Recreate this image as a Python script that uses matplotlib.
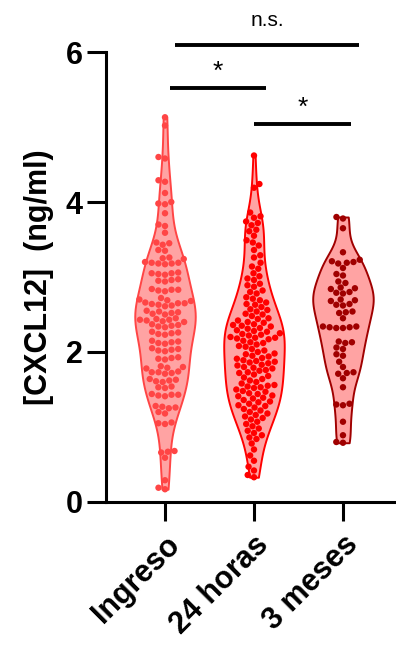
import matplotlib
matplotlib.use("Agg")
import matplotlib.pyplot as plt
import seaborn as sns
import pandas as pd

# datos (ng/ml)
grupos = ["Ingreso", "24 horas", "3 meses"]

ingreso = [
    5.13, 5.02, 4.60, 4.58, 4.29, 4.27, 4.12, 4.00, 3.98, 3.97, 3.85,
    3.70, 3.68, 3.59, 3.46, 3.45, 3.43, 3.36, 3.35, 3.26, 3.25, 3.24,
    3.20, 3.19, 3.19, 3.18, 3.18, 3.17, 3.06, 3.05, 3.05, 3.04, 3.03,
    2.97, 2.96, 2.95, 2.94, 2.84, 2.83, 2.83, 2.82, 2.81, 2.72, 2.70,
    2.69, 2.68, 2.66, 2.65, 2.65, 2.64, 2.63, 2.62, 2.61, 2.55, 2.54,
    2.53, 2.52, 2.51, 2.50, 2.45, 2.44, 2.43, 2.43, 2.42, 2.41, 2.40,
    2.37, 2.36, 2.35, 2.34, 2.33, 2.27, 2.26, 2.25, 2.24, 2.23, 2.15,
    2.14, 2.13, 2.12, 2.11, 2.05, 2.04, 2.03, 2.02, 2.01, 1.93, 1.92,
    1.91, 1.90, 1.81, 1.80, 1.79, 1.78, 1.74, 1.73, 1.73, 1.72, 1.71,
    1.64, 1.63, 1.62, 1.61, 1.60, 1.54, 1.53, 1.52, 1.44, 1.43, 1.43,
    1.42, 1.41, 1.28, 1.27, 1.26, 1.25, 1.20, 1.18, 1.06, 1.05, 1.04,
    0.68, 0.67, 0.66, 0.59, 0.29, 0.19, 0.17,
]

horas24 = [
    4.62, 4.24, 4.19,
    3.86, 3.81, 3.79, 3.74, 3.72, 3.69, 3.63, 3.61, 3.55, 3.49, 3.46, 3.42,
    3.36, 3.29, 3.26, 3.19, 3.14, 3.11, 3.05, 3.01,
    2.98, 2.96, 2.91, 2.89, 2.87, 2.82, 2.80, 2.78, 2.73, 2.71, 2.69, 2.66,
    2.64, 2.63, 2.60, 2.57, 2.56, 2.54, 2.51, 2.50, 2.48, 2.45, 2.44, 2.42,
    2.40, 2.39, 2.37, 2.36, 2.35, 2.34, 2.32, 2.31,
    2.29, 2.28, 2.27, 2.25, 2.24, 2.23, 2.22, 2.20, 2.19, 2.19, 2.18, 2.17,
    2.15, 2.13, 2.12, 2.10, 2.08, 2.07, 2.04, 2.02, 2.00, 1.98, 1.97, 1.95,
    1.94, 1.92, 1.91,
    1.89, 1.88, 1.87, 1.86, 1.85, 1.83, 1.82, 1.80, 1.79, 1.78, 1.76, 1.75,
    1.73, 1.72, 1.70, 1.68, 1.66, 1.64, 1.62, 1.60, 1.58, 1.56, 1.55, 1.54,
    1.53, 1.52,
    1.50, 1.48, 1.47, 1.45, 1.44, 1.42, 1.41, 1.39, 1.38, 1.36, 1.34, 1.33,
    1.31, 1.29, 1.28,
    1.26, 1.24, 1.22, 1.20, 1.18, 1.16, 1.14, 1.12, 1.10, 1.07, 1.04, 1.01,
    0.98, 0.95, 0.92, 0.89, 0.86, 0.84,
    0.78, 0.70, 0.62, 0.55, 0.47, 0.42, 0.36, 0.33,
]

meses3 = [
    3.80, 3.78, 3.65, 3.33, 3.23, 3.21, 3.20, 3.19, 3.18, 3.12, 3.04, 3.02,
    2.94, 2.92, 2.86, 2.85, 2.84, 2.80, 2.79, 2.78, 2.70, 2.69, 2.68, 2.64,
    2.63, 2.62, 2.54, 2.53, 2.52, 2.45, 2.34, 2.34, 2.33, 2.33, 2.32, 2.32,
    2.14, 2.13, 2.12, 2.06, 2.04, 1.97, 1.95, 1.87, 1.80, 1.73, 1.72, 1.71,
    1.65, 1.53, 1.31, 1.30, 1.29, 1.07, 0.89, 0.80, 0.79,
]

colores_punto = ["#ff4545", "#ff0000", "#a00000"]
color_relleno = "#ffa3a3"

# comparaciones: (x inicio, x fin, y, texto)
comparaciones = [
    (0.06, 1.13, 5.52, "*"),
    (1.00, 2.09, 5.04, "*"),
    (0.11, 2.18, 6.09, "n.s."),
]

plt.rcParams["font.family"] = ["Liberation Sans", "DejaVu Sans"]

fig = plt.figure(figsize=(3.96, 6.51), dpi=100)
ax = fig.add_axes([0.2677, 0.2289, 0.7323, 0.6912])

series = [ingreso, horas24, meses3]
vp = ax.violinplot(series, positions=[0, 1, 2], widths=0.68,
                   showextrema=False, bw_method=0.28)
for body, c in zip(vp["bodies"], colores_punto):
    body.set_facecolor(color_relleno)
    body.set_edgecolor(c)
    body.set_linewidth(1.4)
    body.set_alpha(1)

df = pd.DataFrame({
    "grupo": sum([[g] * len(s) for g, s in zip(grupos, series)], []),
    "valor": sum(series, []),
})
sns.swarmplot(data=df, x="grupo", y="valor", hue="grupo", order=grupos,
              hue_order=grupos, palette=colores_punto, size=4.6,
              legend=False, ax=ax, zorder=3)

ax.set_xlim(-0.663, 2.596)
ax.set_ylim(0, 6)
ax.set_yticks([0, 2, 4, 6])
ax.set_xticks([0, 1, 2])
ax.set_xticklabels(grupos, rotation=45, ha="right", rotation_mode="anchor",
                   fontsize=22, fontweight="bold")
ax.tick_params(axis="y", labelsize=22, length=14, width=2.2, pad=3)
ax.tick_params(axis="x", length=14, width=2.2, pad=6)
for lab in ax.get_yticklabels():
    lab.set_fontweight("bold")
ax.set_xlabel("")
ax.set_ylabel("[CXCL12]  (ng/ml)", fontsize=22, fontweight="bold", labelpad=8)

for s in ["top", "right"]:
    ax.spines[s].set_visible(False)
for s in ["left", "bottom"]:
    ax.spines[s].set_linewidth(2.2)

for x0, x1, y, txt in comparaciones:
    ax.plot([x0, x1], [y, y], color="black", lw=2.8, clip_on=False,
            solid_capstyle="butt")
    if txt == "*":
        ax.text((x0 + x1) / 2, y + 0.06, txt, ha="center", va="bottom",
                fontsize=19, clip_on=False)
    else:
        ax.text((x0 + x1) / 2, y + 0.2, txt, ha="center", va="bottom",
                fontsize=15, clip_on=False)

fig.savefig("out.png", dpi=100)
